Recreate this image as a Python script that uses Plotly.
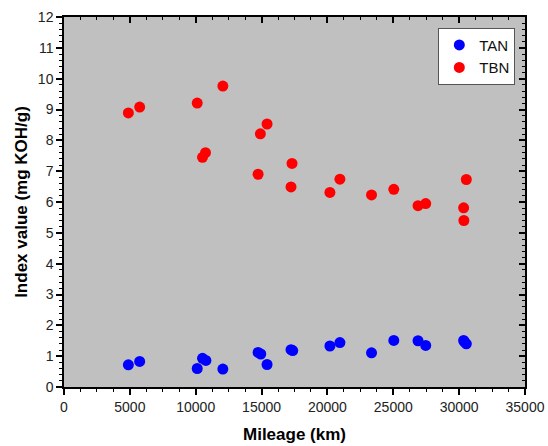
import plotly.graph_objects as go

tbn_mileage = [4886, 5745, 10114, 12060, 10515, 10742, 14909, 15417, 14735,
               17311, 17235, 20189, 20947, 23348, 25038, 26879, 27462, 30341, 30545, 30360]
tbn_values = [8.89, 9.08, 9.21, 9.76, 7.45, 7.60, 8.21, 8.53, 6.90,
              7.25, 6.49, 6.31, 6.74, 6.23, 6.41, 5.88, 5.95, 5.81, 6.73, 5.40]

tan_mileage = [4886, 5745, 10114, 10515, 10773, 12060, 14735, 14939, 15417,
               17235, 17364, 20189, 20947, 23348, 25038, 26879, 27462, 30341, 30545, 30400]
tan_values = [0.72, 0.83, 0.60, 0.93, 0.86, 0.58, 1.12, 1.07, 0.73,
              1.21, 1.18, 1.33, 1.44, 1.11, 1.51, 1.50, 1.35, 1.51, 1.40, 1.46]

font_family = "Liberation Sans, Arial, sans-serif"

fig = go.Figure()
fig.add_trace(go.Scatter(x=tan_mileage, y=tan_values, mode="markers", name="TAN",
                         marker=dict(color="#0000FF", size=11, line=dict(width=0))))
fig.add_trace(go.Scatter(x=tbn_mileage, y=tbn_values, mode="markers", name="TBN",
                         marker=dict(color="#FF0000", size=11, line=dict(width=0))))
# invisible helper trace so the mirrored top/right axes are drawn
fig.add_trace(go.Scatter(x=tan_mileage, y=tan_values, mode="markers", xaxis="x2", yaxis="y2",
                         marker=dict(opacity=0), showlegend=False, hoverinfo="skip"))

fig.update_layout(
    width=548, height=446,
    margin=dict(l=64, r=23, t=17, b=59, autoexpand=False),
    paper_bgcolor="white",
    plot_bgcolor="#C0C0C0",
    font=dict(family=font_family, size=14, color="#222"),
    showlegend=True,
    legend=dict(x=0.979, y=0.971, xanchor="right", yanchor="top",
                bgcolor="white", bordercolor="#555", borderwidth=1,
                font=dict(size=15, color="#111"), itemwidth=30,
                tracegroupgap=0),
    xaxis=dict(range=[0, 35000], dtick=5000, tickformat="d", showgrid=False, zeroline=False,
               showline=True, linecolor="black", linewidth=1.5, automargin=False,
               ticks="outside", ticklen=6, tickwidth=1.5, tickcolor="black",
               minor=dict(dtick=1250, ticks="outside", ticklen=3, tickcolor="black", tickwidth=1),
               title=dict(text="<b>Mileage (km)</b>", font=dict(size=17, color="black"), standoff=15),
               tickfont=dict(size=14, color="#222")),
    yaxis=dict(range=[0, 12], dtick=1, showgrid=False, zeroline=False,
               showline=True, linecolor="black", linewidth=1.5, automargin=False,
               ticks="outside", ticklen=6, tickwidth=1.5, tickcolor="black",
               minor=dict(dtick=0.2, ticks="outside", ticklen=3, tickcolor="black", tickwidth=1),
               title=dict(text="<b>Index value (mg KOH/g)</b>", font=dict(size=17, color="black"), standoff=6),
               tickfont=dict(size=14, color="#222")),
    xaxis2=dict(overlaying="x", side="top", matches="x", range=[0, 35000], dtick=5000,
                showgrid=False, zeroline=False, showline=True, linecolor="black", linewidth=1.5,
                ticks="inside", ticklen=6, tickwidth=1.5, tickcolor="black", showticklabels=False,
                minor=dict(dtick=1250, ticks="inside", ticklen=3, tickcolor="black", tickwidth=1)),
    yaxis2=dict(overlaying="y", side="right", matches="y", range=[0, 12], dtick=1,
                showgrid=False, zeroline=False, showline=True, linecolor="black", linewidth=1.5,
                ticks="inside", ticklen=6, tickwidth=1.5, tickcolor="black", showticklabels=False,
                minor=dict(dtick=0.2, ticks="inside", ticklen=3, tickcolor="black", tickwidth=1)),
)

fig.write_html("out.html", config={"displayModeBar": False},
               post_script="document.body.style.margin='0';document.body.style.overflow='hidden';")
